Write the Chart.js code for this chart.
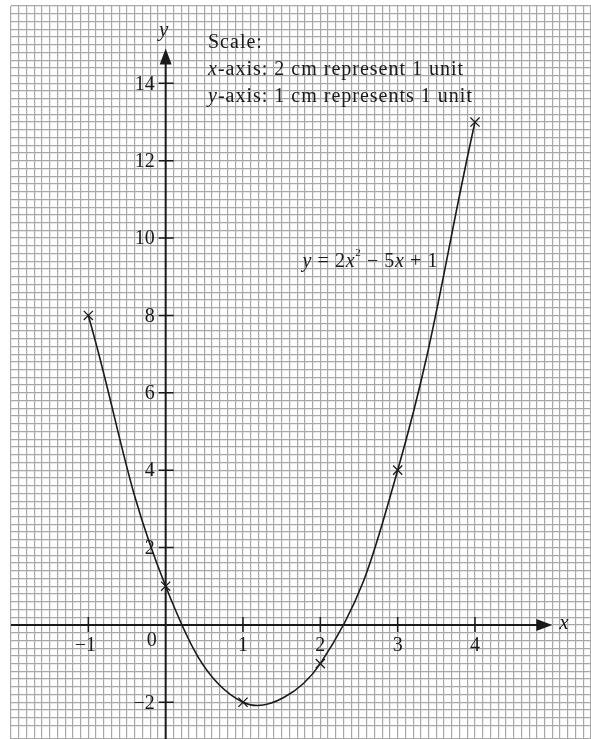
<!DOCTYPE html>
<html>
<head>
<meta charset="utf-8">
<script src="https://cdn.jsdelivr.net/npm/chart.js@4.4.1/dist/chart.umd.min.js"></script>
<style>
  html, body { margin: 0; padding: 0; background: #fff; overflow: hidden; }
  canvas { display: block; }
</style>
</head>
<body>
<canvas id="graph" width="591" height="739"></canvas>
<script>
// table of values for y = 2x^2 - 5x + 1
const xValues = [-1, 0, 1, 2, 3, 4];
const yValues = [8, 1, -2, -1, 4, 13];

// labelled ticks on the two axes
const xTickLabels = [-1, 1, 2, 3, 4];
const yTickLabels = [-2, 2, 4, 6, 8, 10, 12, 14];

// graph paper: 10 small squares per x unit, 5 per y unit
const xRange = [-2, 5.5];
const yRange = [-2.95, 16];
const xMinorStep = 0.1;
const yMinorStep = 0.2;

const SERIF = '"Liberation Serif", "DejaVu Serif", serif';
const INK = '#1a1a1a';

// draw a run of text pieces, some in italics, some raised
const drawRich = (ctx, pieces, x, y, size, spacing) => {
    let cx = x;
    ctx.letterSpacing = spacing + 'px';
    pieces.forEach(p => {
        const s = p.sup ? size * 0.55 : size;
        ctx.font = (p.it ? 'italic ' : '') + s + 'px ' + SERIF;
        ctx.fillText(p.t, cx, p.sup ? y - size * 0.4 : y);
        cx += ctx.measureText(p.t).width;
    });
    ctx.letterSpacing = '0px';
};

const cartesianAxes = {
    id: 'cartesianAxes',
    beforeDatasetsDraw(chart) {
        const {ctx, chartArea, scales: {x, y}} = chart;
        const x0 = x.getPixelForValue(0);
        const y0 = y.getPixelForValue(0);
        const xTip = x.getPixelForValue(5.0);
        const yTip = y.getPixelForValue(14.9);
        const head = 16, half = 6;

        ctx.save();
        ctx.strokeStyle = INK;
        ctx.fillStyle = INK;
        ctx.lineWidth = 2;

        ctx.beginPath();
        ctx.moveTo(chartArea.left, y0);
        ctx.lineTo(xTip - head + 1, y0);
        ctx.moveTo(x0, chartArea.bottom);
        ctx.lineTo(x0, yTip + head - 1);
        ctx.stroke();

        // arrow heads
        ctx.beginPath();
        ctx.moveTo(xTip, y0);
        ctx.lineTo(xTip - head, y0 - half);
        ctx.lineTo(xTip - head, y0 + half);
        ctx.closePath();
        ctx.moveTo(x0, yTip);
        ctx.lineTo(x0 - half, yTip + head);
        ctx.lineTo(x0 + half, yTip + head);
        ctx.closePath();
        ctx.fill();

        // tick marks across the axes
        ctx.lineWidth = 1.5;
        ctx.beginPath();
        xTickLabels.forEach(v => {
            const px = x.getPixelForValue(v);
            ctx.moveTo(px, y0 - 8);
            ctx.lineTo(px, y0 + 7);
        });
        yTickLabels.forEach(v => {
            const py = y.getPixelForValue(v);
            ctx.moveTo(x0 - 7, py);
            ctx.lineTo(x0 + 8, py);
        });
        ctx.stroke();

        // tick labels
        ctx.font = '20px ' + SERIF;
        ctx.textBaseline = 'middle';
        ctx.textAlign = 'center';
        xTickLabels.forEach(v => {
            const txt = v < 0 ? '\u2212' + Math.abs(v) : String(v);
            ctx.fillText(txt, x.getPixelForValue(v) - (v < 0 ? 3 : 0), y0 + 21);
        });
        ctx.fillText('0', x0 - 14, y0 + 16);
        ctx.textAlign = 'right';
        yTickLabels.forEach(v => {
            const txt = v < 0 ? '\u2212' + Math.abs(v) : String(v);
            ctx.fillText(txt, x0 - 11, y.getPixelForValue(v) + 1);
        });

        // axis names
        ctx.font = 'italic 21px ' + SERIF;
        ctx.textAlign = 'left';
        ctx.fillText('x', xTip + 7, y0 - 1);
        ctx.textAlign = 'center';
        ctx.fillText('y', x0 - 2, yTip - 18);
        ctx.restore();
    },
    afterDraw(chart) {
        const {ctx, scales: {x, y}} = chart;
        ctx.save();
        ctx.fillStyle = INK;
        ctx.textBaseline = 'middle';
        ctx.textAlign = 'left';
        const left = 208, size = 20;
        drawRich(ctx, [{t: 'Scale:'}], left, 43, size, 1);
        drawRich(ctx, [{t: 'x', it: true}, {t: '-axis: 2 cm represent 1 unit'}], left, 70, size, 1);
        drawRich(ctx, [{t: 'y', it: true}, {t: '-axis: 1 cm represents 1 unit'}], left, 97, size, 1);

        // equation of the curve
        drawRich(ctx, [
            {t: 'y', it: true}, {t: ' = 2'}, {t: 'x', it: true}, {t: '2', sup: true},
            {t: ' \u2212 5'}, {t: 'x', it: true}, {t: ' + 1'}
        ], x.getPixelForValue(1.77), y.getPixelForValue(9.4), 20, 0.6);
        ctx.restore();
    }
};

const points = xValues.map((v, i) => ({x: v, y: yValues[i]}));

new Chart(document.getElementById('graph'), {
    type: 'line',
    data: {
        datasets: [{
            data: points,
            borderColor: INK,
            borderWidth: 1.6,
            tension: 0.4,
            pointStyle: 'crossRot',
            pointRadius: 6.5,
            pointBorderWidth: 1.3,
            pointBorderColor: INK,
            fill: false
        }]
    },
    options: {
        responsive: false,
        animation: false,
        devicePixelRatio: 1,
        layout: {autoPadding: false, padding: {left: 11, top: 6, right: 0, bottom: 0}},
        plugins: {legend: {display: false}, tooltip: {enabled: false}},
        scales: {
            x: {
                type: 'linear',
                min: xRange[0],
                max: xRange[1],
                ticks: {display: false, stepSize: xMinorStep},
                grid: {color: '#a8a8a8', lineWidth: 1.2, drawTicks: false},
                border: {display: false}
            },
            y: {
                type: 'linear',
                min: yRange[0],
                max: yRange[1],
                ticks: {display: false, stepSize: yMinorStep},
                grid: {color: '#a8a8a8', lineWidth: 1.2, drawTicks: false},
                border: {display: false}
            }
        }
    },
    plugins: [cartesianAxes]
});
</script>
</body>
</html>
